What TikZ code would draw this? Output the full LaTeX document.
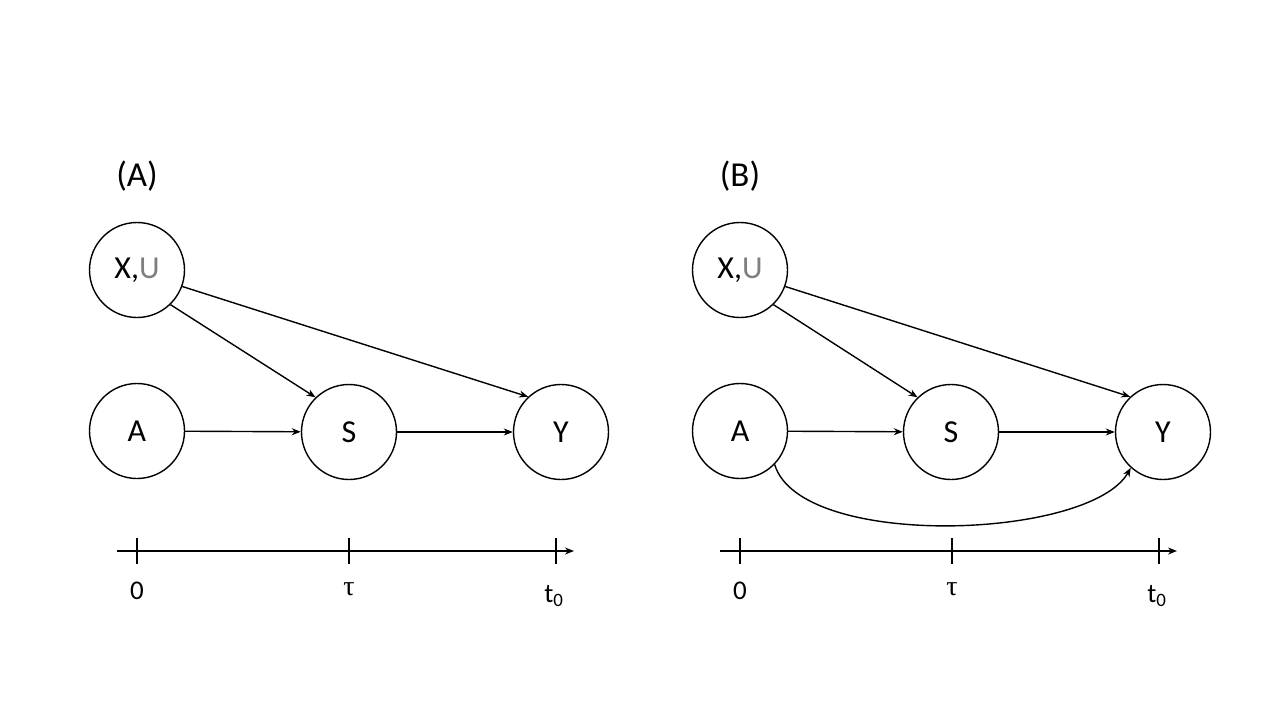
\documentclass[tikz,border=0pt]{standalone}
\usepackage{fontspec}
\setmainfont{Carlito}
\newfontfamily\taufont{Liberation Serif}
\usetikzlibrary{arrows.meta}
\definecolor{ugray}{HTML}{7F7F7F}
\tikzset{
  var/.style={circle,draw=black,line width=1.4pt,minimum size=95pt,inner sep=0pt,font=\fontsize{32}{36}\selectfont},
  edge/.style={line width=1.4pt,-{Stealth[length=9pt,width=7pt]}},
  axis/.style={line width=1.6pt,-{Stealth[length=9pt,width=7pt]}},
  tick/.style={line width=1.6pt},
  tlab/.style={font=\fontsize{27}{31}\selectfont,inner sep=0pt},
  panel/.style={font=\fontsize{35}{40}\selectfont,inner sep=0pt}
}
\begin{document}
\begin{tikzpicture}[x=1pt,y=-1pt]
\useasboundingbox (0,0) rectangle (1280,720);
% Panel A
\node[panel] (la) at (137,176) {(A)};
\node[var] (xa) at (137,270) {X,\textcolor{ugray}{U}};
\node[var] (aa) at (137,431) {A};
\node[var] (sa) at (349,432) {S};
\node[var] (ya) at (561,432) {Y};
\draw[edge] (aa) -- (sa);
\draw[edge] (sa) -- (ya);
\draw[edge] (xa.-46) -- (sa.134);
\draw[edge] (xa.-20) -- (ya.133);
\coordinate (a0) at (117,551);
\coordinate (a1) at (574,551);
\draw[axis] (a0) -- (a1);
\coordinate (ta0) at (137,551);
\coordinate (ta1) at (349,551);
\coordinate (ta2) at (556,551);
\draw[tick] ([yshift=-13pt]ta0) -- ([yshift=13pt]ta0);
\draw[tick] ([yshift=-13pt]ta1) -- ([yshift=13pt]ta1);
\draw[tick] ([yshift=-13pt]ta2) -- ([yshift=13pt]ta2);
\node[tlab] (na0) at (137,591) {0};
\node[tlab] (na1) at (349,589) {\taufont\fontsize{28}{32}\selectfont τ};
\node[tlab] (na2) at (554,596) {t\textsubscript{0}};
% Panel B
\node[panel] (lb) at (740,176) {(B)};
\node[var] (xb) at (740,270) {X,\textcolor{ugray}{U}};
\node[var] (ab) at (740,431) {A};
\node[var] (sb) at (951,432) {S};
\node[var] (yb) at (1163,432) {Y};
\draw[edge] (ab) -- (sb);
\draw[edge] (sb) -- (yb);
\draw[edge] (xb.-46) -- (sb.134);
\draw[edge] (xb.-20) -- (yb.133);
\draw[edge] (ab.-44) .. controls (800,550) and (1090,540) .. (yb.-132);
\coordinate (b0) at (720,551);
\coordinate (b1) at (1177,551);
\draw[axis] (b0) -- (b1);
\coordinate (tb0) at (740,551);
\coordinate (tb1) at (952,551);
\coordinate (tb2) at (1159,551);
\draw[tick] ([yshift=-13pt]tb0) -- ([yshift=13pt]tb0);
\draw[tick] ([yshift=-13pt]tb1) -- ([yshift=13pt]tb1);
\draw[tick] ([yshift=-13pt]tb2) -- ([yshift=13pt]tb2);
\node[tlab] (nb0) at (740,591) {0};
\node[tlab] (nb1) at (952,589) {\taufont\fontsize{28}{32}\selectfont τ};
\node[tlab] (nb2) at (1157,596) {t\textsubscript{0}};
\end{tikzpicture}
\end{document}
